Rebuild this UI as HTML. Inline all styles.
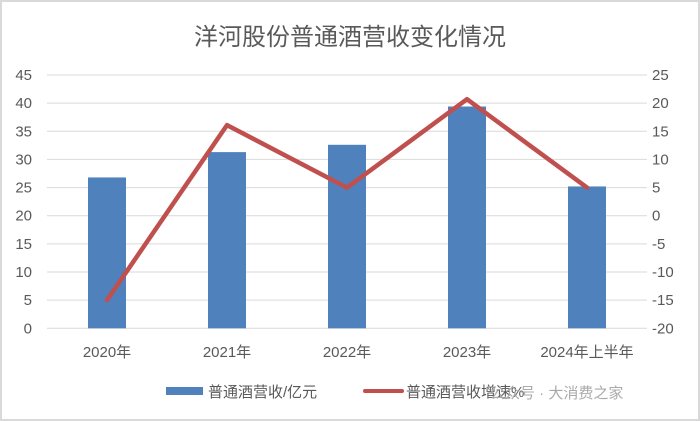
<!DOCTYPE html>
<html><head><meta charset="utf-8"><style>
body{margin:0;background:#fff;}
svg{display:block;font-family:"Liberation Sans","Noto Sans CJK SC",sans-serif;}
</style></head><body>
<svg width="700" height="421" viewBox="0 0 700 421">
<rect x="1" y="1" width="698" height="419" fill="#fff" stroke="#d9d9d9" stroke-width="2"/>
<text x="350" y="45" text-anchor="middle" font-size="24" fill="#595959">洋河股份普通酒营收变化情况</text>
<g id="grid"></g><g id="bars"></g><g id="line"></g><g id="labels"></g>
<g>
<rect x="166" y="387" width="37" height="8" fill="#4f81bd"/>
<text x="208" y="397" font-size="15" fill="#595959">普通酒营收/亿元</text>
<line x1="365" y1="391" x2="402" y2="391" stroke="#c0504d" stroke-width="4" stroke-linecap="round"/>
<text x="406" y="397" font-size="15" fill="#595959">普通酒营收增速%</text>
<text x="490" y="398" font-size="15" fill="#aaaaaa">公众号 · 大消费之家</text>
</g>
</svg>
<script>
const categories=["2020年","2021年","2022年","2023年","2024年上半年"];
const revenue=[26.8,31.3,32.6,39.4,25.2];
const growth=[-15,16.1,5,20.7,5];
const leftTicks=[0,5,10,15,20,25,30,35,40,45];
const rightTicks=[-20,-15,-10,-5,0,5,10,15,20,25];
const NS="http://www.w3.org/2000/svg";
const x0=47,x1=647,yTop=75,yBot=328.3;
const band=(x1-x0)/categories.length;
const xC=i=>x0+band*(i+0.5);
const yL=v=>yBot-(v-0)/45*(yBot-yTop);
const yR=v=>yBot-(v+20)/45*(yBot-yTop);
function mk(t,a,p){const e=document.createElementNS(NS,t);for(const k in a)e.setAttribute(k,a[k]);document.getElementById(p).appendChild(e);return e;}
leftTicks.forEach((v,i)=>{
 const l=mk("line",{x1:x0,x2:x1,y1:yL(v),y2:yL(v),stroke:"#d9d9d9","stroke-width":1},"grid");
 
 
 const t=mk("text",{x:32,y:yL(v)+5,"text-anchor":"end","font-size":15,fill:"#595959"},"labels");
 t.textContent=v;
 
 
});
rightTicks.forEach(v=>{
 const t=mk("text",{x:652,y:yR(v)+5,"text-anchor":"start","font-size":15,fill:"#595959"},"labels");
 t.textContent=v;
 
 
});
categories.forEach((c,i)=>{
 const t=mk("text",{x:xC(i),y:357,"text-anchor":"middle","font-size":15,fill:"#595959"},"labels");
 t.textContent=c;
 
 
});
const bw=38;
revenue.forEach((v,i)=>{
 const r=mk("rect",{x:xC(i)-bw/2,y:yL(v),width:bw,height:yBot-yL(v),fill:"#4f81bd"},"bars");
 
 
});
const pts=growth.map((v,i)=>xC(i)+","+yR(v)).join(" ");
const pl=mk("polyline",{points:pts,fill:"none",stroke:"#c0504d","stroke-width":4.5,"stroke-linejoin":"round","stroke-linecap":"round"},"line");


</script>
</body></html>
